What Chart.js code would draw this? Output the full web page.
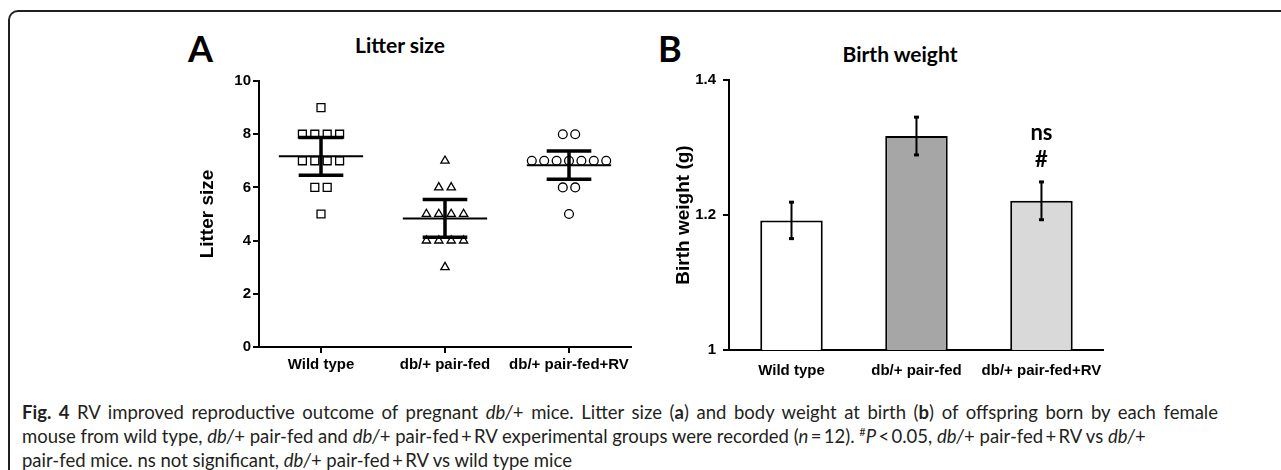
<!DOCTYPE html>
<html>
<head>
<meta charset="utf-8">
<script src="https://cdn.jsdelivr.net/npm/chart.js@4.4.0/dist/chart.umd.min.js"></script>
<style>
  body { margin: 0; width: 1281px; height: 470px; background: #fff; position: relative; overflow: hidden; }
  .frame { position: absolute; left: 8px; top: 10px; width: 1300px; height: 500px;
    border-top: 2px solid #231f20; border-left: 2px solid #231f20; border-top-left-radius: 10px; }
  .lbl { position: absolute; font-family: Lato, sans-serif; font-weight: 700; color: #000; white-space: nowrap; }
  .letter { font-size: 36px; line-height: 36px; }
  .title { font-size: 21px; line-height: 21px; transform: translateX(-50%); }
  canvas { position: absolute; }
  .cap { position: absolute; left: 22px; top: 400px; width: 1196px; font-family: Lato, sans-serif; font-size: 18.5px;
    line-height: 24px; color: #231f20; white-space: nowrap; }
  .cap .j { text-align: justify; text-align-last: justify; white-space: normal; }
  .cap sup { font-size: 11px; line-height: 0; }
</style>
</head>
<body>
<div class="frame"></div>

<div class="lbl letter" style="left:188px; top:30px;">A</div>
<div class="lbl title" style="left:400px; top:34px;">Litter size</div>
<div class="lbl letter" style="left:658px; top:30px;">B</div>
<div class="lbl title" style="left:900px; top:43px;">Birth weight</div>

<canvas id="litter" width="451" height="310" style="left:190px; top:70px;"></canvas>
<canvas id="weight" width="455" height="316" style="left:660px; top:64px;"></canvas>

<div class="cap">
  <div class="j"><b>Fig. 4</b> RV improved reproductive outcome of pregnant <i>db/</i>+ mice. Litter size (<b>a</b>) and body weight at birth (<b>b</b>) of offspring born by each female</div>
  <div>mouse from wild type, <i>db/</i>+ pair-fed and <i>db/</i>+ pair-fed&thinsp;+&thinsp;RV experimental groups were recorded (<i>n</i>&thinsp;=&thinsp;12). <sup>#</sup><i>P</i>&thinsp;&lt;&thinsp;0.05, <i>db/</i>+ pair-fed&thinsp;+&thinsp;RV vs <i>db/</i>+</div>
  <div>pair-fed mice. ns not significant, <i>db/</i>+ pair-fed&thinsp;+&thinsp;RV vs wild type mice</div>
</div>

<script>
// groups
const categories = ['Wild type', 'db/+ pair-fed', 'db/+ pair-fed+RV'];

// panel A - litter size per female (n = 12)
const wildType  = [9, 8, 8, 8, 8, 7, 7, 7, 7, 6, 6, 5];
const pairFed   = [7, 6, 6, 5, 5, 5, 5, 4, 4, 4, 4, 3];
const pairFedRV = [8, 8, 7, 7, 7, 7, 7, 7, 7, 6, 6, 5];
const litterTicks = [0, 2, 4, 6, 8, 10];

// panel B - birth weight (g), mean and SEM
const weightMeans = [1.192, 1.317, 1.221];
const weightSEM   = [0.027, 0.028, 0.028];
const weightTicks = [1, 1.2, 1.4];
const weightMarks = [[], [], ['ns', '#']];

const groups = [wildType, pairFed, pairFedRV];
const markers = ['rect', 'triangle', 'circle'];
const markerSize = [5.6, 4.8, 4.4];
const barFills = ['#ffffff', '#a6a6a6', '#d9d9d9'];

const T_CRIT = 2.201;   // t(0.975, df = 11)
const DOT_GAP = 0.1;    // horizontal spread of tied points, in category units
const MEAN_HALF = 0.34;
const CAP_HALF = 0.18;

const axisFont = { family: "'Liberation Sans', Arial, sans-serif", size: 15, weight: 'bold' };
const titleFont = { family: "'Liberation Sans', Arial, sans-serif", size: 19, weight: 'bold' };

// spread tied values side by side like a dot plot
function spread(values, idx) {
  const counts = {}, seen = {};
  values.forEach(v => counts[v] = (counts[v] || 0) + 1);
  return values.map(v => {
    const k = seen[v] || 0;
    seen[v] = k + 1;
    return { x: idx + (k - (counts[v] - 1) / 2) * DOT_GAP, y: v };
  });
}

function stats(values) {
  const n = values.length;
  const mean = values.reduce((a, b) => a + b, 0) / n;
  const sd = Math.sqrt(values.reduce((a, v) => a + (v - mean) ** 2, 0) / (n - 1));
  const ci = T_CRIT * sd / Math.sqrt(n);
  return { mean, lo: mean - ci, hi: mean + ci };
}

function hline(ctx, x1, x2, y) { ctx.beginPath(); ctx.moveTo(x1, y); ctx.lineTo(x2, y); ctx.stroke(); }
function vline(ctx, x, y1, y2) { ctx.beginPath(); ctx.moveTo(x, y1); ctx.lineTo(x, y2); ctx.stroke(); }

const meanBars = {
  id: 'meanBars',
  afterDatasetsDraw(chart) {
    const { ctx, scales: { x, y } } = chart;
    ctx.save();
    ctx.strokeStyle = '#000';
    groups.forEach((vals, i) => {
      const s = stats(vals);
      const cx = x.getPixelForValue(i);
      ctx.lineWidth = 2;
      hline(ctx, x.getPixelForValue(i - MEAN_HALF), x.getPixelForValue(i + MEAN_HALF), y.getPixelForValue(s.mean));
      ctx.lineWidth = 3.5;
      vline(ctx, cx, y.getPixelForValue(s.lo), y.getPixelForValue(s.hi));
      hline(ctx, x.getPixelForValue(i - CAP_HALF), x.getPixelForValue(i + CAP_HALF), y.getPixelForValue(s.lo));
      hline(ctx, x.getPixelForValue(i - CAP_HALF), x.getPixelForValue(i + CAP_HALF), y.getPixelForValue(s.hi));
    });
    ctx.restore();
  }
};

const errorBars = {
  id: 'errorBars',
  afterDatasetsDraw(chart) {
    const { ctx, scales: { x, y } } = chart;
    ctx.save();
    ctx.strokeStyle = '#000';
    ctx.fillStyle = '#000';
    weightMeans.forEach((m, i) => {
      const cx = x.getPixelForValue(i);
      const top = y.getPixelForValue(m + weightSEM[i]);
      const bot = y.getPixelForValue(m - weightSEM[i]);
      ctx.lineWidth = 2;
      vline(ctx, cx, top, bot);
      ctx.lineWidth = 3;
      hline(ctx, cx - 2.5, cx + 2.5, top);
      hline(ctx, cx - 2.5, cx + 2.5, bot);
      ctx.font = "bold 22px Lato, sans-serif";
      ctx.textAlign = 'center';
      ctx.textBaseline = 'alphabetic';
      const marks = weightMarks[i];
      marks.slice().reverse().forEach((t, k) => {
        ctx.fillText(t, cx, top - 15 - k * 27);
      });
    });
    ctx.restore();
  }
};

Chart.defaults.color = '#000';

new Chart(document.getElementById('litter'), {
  type: 'scatter',
  data: {
    datasets: groups.map((vals, i) => ({
      label: categories[i],
      data: spread(vals, i),
      pointStyle: markers[i],
      pointRadius: markerSize[i],
      pointBorderColor: '#000',
      pointBackgroundColor: '#fff',
      pointBorderWidth: 1.3
    }))
  },
  options: {
    responsive: false,
    animation: false,
    events: [],
    layout: { padding: { top: 11, right: 10, left: 6, bottom: 0 } },
    plugins: { legend: { display: false }, tooltip: { enabled: false } },
    scales: {
      x: {
        type: 'linear', min: -0.5, max: 2.5,
        afterBuildTicks: s => { s.ticks = categories.map((c, i) => ({ value: i })); },
        ticks: { callback: v => categories[v], font: axisFont, padding: 3, maxRotation: 0, autoSkip: false },
        grid: { drawOnChartArea: false, tickLength: 6, color: '#000', lineWidth: 2 },
        border: { color: '#000', width: 2 },
        afterFit: s => { s.height = 33; }
      },
      y: {
        min: 0, max: 10,
        afterBuildTicks: s => { s.ticks = litterTicks.map(v => ({ value: v })); },
        ticks: { font: axisFont, padding: 2 },
        grid: { drawOnChartArea: false, tickLength: 6, color: '#000', lineWidth: 2 },
        border: { color: '#000', width: 2 },
        title: { display: true, text: 'Litter size', font: titleFont, padding: 0 },
        afterFit: s => { s.width = 63; }
      }
    }
  },
  plugins: [meanBars]
});

new Chart(document.getElementById('weight'), {
  type: 'bar',
  data: {
    labels: categories,
    datasets: [{
      data: weightMeans,
      backgroundColor: barFills,
      borderColor: '#000',
      borderWidth: 2,
      borderSkipped: false,
      barPercentage: 0.5,
      categoryPercentage: 1
    }]
  },
  options: {
    responsive: false,
    animation: false,
    events: [],
    layout: { padding: { top: 0, right: 10, left: 12, bottom: 0 } },
    plugins: { legend: { display: false }, tooltip: { enabled: false } },
    scales: {
      x: {
        ticks: { font: axisFont, padding: 12, maxRotation: 0, autoSkip: false },
        grid: { display: false, drawTicks: false },
        border: { color: '#000', width: 2 },
        afterFit: s => { s.height = 30; }
      },
      y: {
        min: 1, max: 1.4,
        afterBuildTicks: s => { s.ticks = weightTicks.map(v => ({ value: v })); },
        ticks: { font: axisFont, padding: 7, callback: v => String(+v.toFixed(1)) },
        grid: { drawOnChartArea: false, tickLength: 6, color: '#000', lineWidth: 2 },
        border: { color: '#000', width: 2 },
        title: { display: true, text: 'Birth weight (g)', font: titleFont, padding: 0 },
        afterFit: s => { s.width = 57; }
      }
    }
  },
  plugins: [errorBars]
});
</script>
</body>
</html>
